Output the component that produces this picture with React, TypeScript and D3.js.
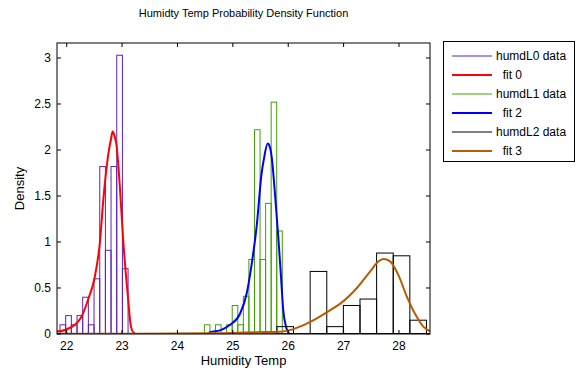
import React from 'react';
import * as d3 from 'd3';

// ---- data ----
const xTicks = [22, 23, 24, 25, 26, 27, 28];
const yTicks = [0, 0.5, 1, 1.5, 2, 2.5, 3];
const yTickLabels = ['0', '0.5', '1', '1.5', '2', '2.5', '3'];

// humdL0 histogram (bin centers, density)
const humdL0Centers = [21.930, 22.033, 22.135, 22.238, 22.340, 22.443, 22.545, 22.648, 22.750, 22.852, 22.955, 23.057];
const humdL0Density = [0.1, 0.2, 0.1, 0.2, 0.4, 0.1, 0.6, 1.82, 0.91, 1.82, 3.03, 0.71];
const humdL0BinWidth = 0.1024;

// humdL1 histogram
const humdL1Centers = [24.536, 24.637, 24.737, 24.838, 24.938, 25.039, 25.139, 25.240, 25.340, 25.441, 25.541, 25.642, 25.742, 25.843];
const humdL1Density = [0.1, 0, 0.1, 0, 0.1, 0.31, 0.1, 0.41, 0.81, 2.22, 0.81, 1.42, 2.52, 1.12];
const humdL1BinWidth = 0.1005;

// humdL2 histogram
const humdL2Centers = [25.946, 26.246, 26.546, 26.846, 27.146, 27.446, 27.746, 28.046, 28.346];
const humdL2Density = [0.08, 0, 0.68, 0.08, 0.31, 0.38, 0.88, 0.85, 0.15];
const humdL2BinWidth = 0.3;

// fit curves
const fit0X = [21.825, 21.85, 22.03, 22.15, 22.27, 22.39, 22.5, 22.6, 22.66, 22.75, 22.8, 22.83, 22.86, 22.9, 22.96, 23.02, 23.1, 23.16, 23.2, 23.26, 26.1];
const fit0Y = [0.03, 0.03, 0.06, 0.1, 0.19, 0.38, 0.6, 1.0, 1.45, 1.95, 2.12, 2.2, 2.16, 2.05, 1.6, 1.02, 0.44, 0.08, 0.02, 0, 0];

const fit2X = [24.55, 24.59, 24.77, 24.95, 25.13, 25.25, 25.34, 25.43, 25.52, 25.56, 25.63, 25.67, 25.7, 25.76, 25.82, 25.87, 25.91, 25.96, 26.0, 26.04, 28.56];
const fit2Y = [0, 0.02, 0.04, 0.1, 0.22, 0.44, 0.76, 1.17, 1.75, 1.9, 2.07, 2.03, 1.93, 1.53, 1.06, 0.62, 0.26, 0.08, 0.02, 0, 0];

const fit3X = [21.825, 23, 24, 24.5, 25, 25.4, 25.86, 26.05, 26.21, 26.39, 26.57, 26.76, 26.94, 27.24, 27.48, 27.63, 27.72, 27.84, 27.99, 28.14, 28.29, 28.44, 28.56];
const fit3Y = [0.002, 0.003, 0.005, 0.008, 0.012, 0.02, 0.025, 0.045, 0.08, 0.13, 0.19, 0.26, 0.33, 0.5, 0.68, 0.79, 0.815, 0.79, 0.64, 0.41, 0.22, 0.08, 0.03];

const legendLabels = ['humdL0 data', '  fit 0', 'humdL1 data', '  fit 2', 'humdL2 data', '  fit 3'];
const legendColors = ['#6020c0', '#ff0000', '#40a000', '#0000ff', '#000000', '#b85c00'];
const legendWidths = [1, 2, 1, 2, 1, 2];

const FONT = 'Liberation Sans, Arial, Helvetica, sans-serif';

export default function App() {
  const W = 576, H = 370;
  const L = 57, R = 430, T = 43, B = 334;
  const x = d3.scaleLinear().domain([21.825, 28.56]).range([L, R]);
  const y = d3.scaleLinear().domain([0, 3.163]).range([B, T]);

  const line = d3.line<[number, number]>()
    .x((d) => x(d[0]))
    .y((d) => y(d[1]))
    .curve(d3.curveMonotoneX);

  const bars = (centers: number[], dens: number[], w: number, color: string, key: string) =>
    centers.map((c, i) => {
      if (dens[i] <= 0) return null;
      const x0 = x(c - w / 2), x1 = x(c + w / 2);
      return (
        <rect key={key + i} x={x0} y={y(dens[i])} width={x1 - x0} height={y(0) - y(dens[i])}
          fill="none" stroke={color} strokeWidth={1} />
      );
    });

  const curve = (xs: number[], ys: number[], color: string) => (
    <path d={line(xs.map((v, i) => [v, ys[i]] as [number, number])) || ''} fill="none" stroke={color} strokeWidth={2} strokeLinejoin="round" />
  );

  const tickLen = 4;
  const legX = 443.5, legY = 41.5, legW = 131, legH = 120;

  return (
    <svg width={W} height={H} style={{ position: 'absolute', left: 0, top: 0, background: '#fff' }} fontFamily={FONT}>
      <rect x={0} y={0} width={W} height={H} fill="#fff" />
      <defs>
        <clipPath id="plotClip">
          <rect x={L} y={T} width={R - L} height={B - T} />
        </clipPath>
      </defs>
      <g clipPath="url(#plotClip)">
        {bars(humdL0Centers, humdL0Density, humdL0BinWidth, legendColors[0], 'a')}
        {curve(fit0X, fit0Y, legendColors[1])}
        {bars(humdL1Centers, humdL1Density, humdL1BinWidth, legendColors[2], 'b')}
        {curve(fit2X, fit2Y, legendColors[3])}
        {bars(humdL2Centers, humdL2Density, humdL2BinWidth, legendColors[4], 'c')}
        {curve(fit3X, fit3Y, legendColors[5])}
      </g>
      {/* axes frame */}
      <rect x={L} y={T} width={R - L} height={B - T} fill="none" stroke="#000" strokeWidth={1} />
      {xTicks.map((t) => (
        <g key={'xt' + t}>
          <line x1={x(t)} x2={x(t)} y1={B} y2={B - tickLen} stroke="#000" />
          <line x1={x(t)} x2={x(t)} y1={T} y2={T + tickLen} stroke="#000" />
          <text x={x(t)} y={350} textAnchor="middle" fontSize={12} fill="#000">{t}</text>
        </g>
      ))}
      {yTicks.map((t, i) => (
        <g key={'yt' + t}>
          <line x1={L} x2={L + tickLen} y1={y(t)} y2={y(t)} stroke="#000" />
          <line x1={R} x2={R - tickLen} y1={y(t)} y2={y(t)} stroke="#000" />
          <text x={51} y={y(t)} dy="0.35em" textAnchor="end" fontSize={12} fill="#000">{yTickLabels[i]}</text>
        </g>
      ))}
      <text x={(L + R) / 2} y={365} textAnchor="middle" fontSize={13} fill="#000">Humidity Temp</text>
      <text transform={`translate(24, ${(T + B) / 2 + 0}) rotate(-90)`} textAnchor="middle" fontSize={13} fill="#000">Density</text>
      <text x={(L + R) / 2} y={17} textAnchor="middle" fontSize={11} fill="#000">Humidty Temp Probability Density Function</text>

      {/* legend */}
      <rect x={legX} y={legY} width={legW} height={legH} fill="#fff" stroke="#000" strokeWidth={1} />
      {legendLabels.map((lab, i) => {
        const ly = 56 + i * 19;
        return (
          <g key={'lg' + i}>
            <line x1={452} x2={492} y1={ly} y2={ly} stroke={legendColors[i]} strokeWidth={legendWidths[i]} />
            <text x={496} y={ly} dy="0.35em" fontSize={12} fill="#000" style={{ whiteSpace: 'pre' }}>{lab}</text>
          </g>
        );
      })}
    </svg>
  );
}
